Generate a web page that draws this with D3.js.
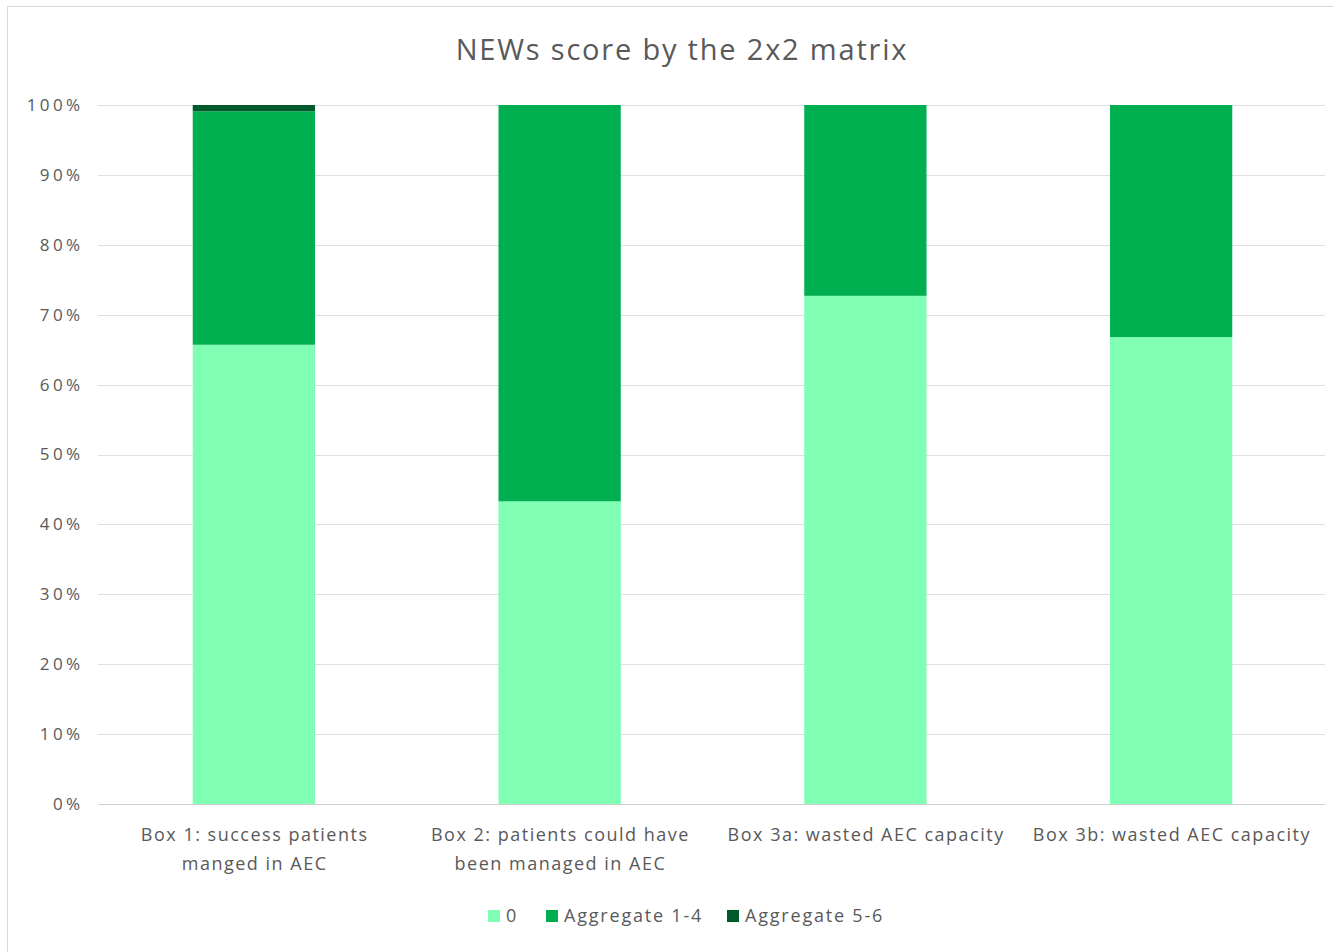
<!DOCTYPE html>
<html><head><meta charset="utf-8">
<script src="https://cdn.jsdelivr.net/npm/d3@7"></script>
<style>body{margin:0;background:#fff}svg{display:block}</style>
</head><body>
<script>
const categories = [
  ["Box 1: success patients", "manged in AEC"],
  ["Box 2: patients could have", "been managed in AEC"],
  ["Box 3a: wasted AEC capacity"],
  ["Box 3b: wasted AEC capacity"]
];
const seriesNames = ["0", "Aggregate 1-4", "Aggregate 5-6"];
const s0 = [0.657, 0.433, 0.727, 0.668];
const s14 = [0.334, 0.567, 0.273, 0.332];
const s56 = [0.009, 0, 0, 0];
const yTicks = [0,0.1,0.2,0.3,0.4,0.5,0.6,0.7,0.8,0.9,1.0];
const colors = ["#80FFB4", "#00B050", "#005A2A"];
const title = "NEWs score by the 2x2 matrix";

const W = 1333, H = 952;
const font = "'Open Sans', sans-serif";
const svg = d3.select("body").append("svg").attr("width", W).attr("height", H);
svg.append("rect").attr("x",7.5).attr("y",6.5).attr("width",W+10).attr("height",H+10)
  .attr("fill","#fff").attr("stroke","#d9d9d9");

const x = d3.scaleBand().domain(d3.range(categories.length)).range([101,1324]).paddingInner(0.6).paddingOuter(0.3);
const y = d3.scaleLinear().domain([0,1]).range([804,105]);

// grid
svg.append("g").selectAll("line").data(yTicks).join("line")
  .attr("x1",98).attr("x2",1325).attr("y1",d=>Math.round(y(d))+0.5).attr("y2",d=>Math.round(y(d))+0.5)
  .attr("stroke",d=>d===0?"#d0d0d0":"#e0e0e0").attr("stroke-width",1);

// y labels
const fmt = d3.format(".0%");
svg.append("g").selectAll("text").data(yTicks).join("text")
  .attr("x",83.5).attr("y",d=>y(d)).attr("dy","0.35em").attr("text-anchor","end")
  .attr("font-family",font).attr("font-size",17).attr("letter-spacing",3.4).attr("fill","#595959").text(d=>fmt(d));

// stacked bars
const series = [s0, s14, s56];
const stackData = categories.map((c,i)=>({i, v: series.map(s=>s[i])}));
const stack = d3.stack().keys([0,1,2]).value((d,k)=>d.v[k]);
const layers = stack(stackData);
svg.append("g").selectAll("g").data(layers).join("g").attr("fill",(d,k)=>colors[k])
  .selectAll("rect").data(d=>d).join("rect")
  .attr("x",d=>x(d.data.i)).attr("width",x.bandwidth())
  .attr("y",d=>y(d[1])).attr("height",d=>Math.max(0,y(d[0])-y(d[1])));

// x labels
const xl = svg.append("g");
categories.forEach((lines,i)=>{
  lines.forEach((t,j)=>{
    xl.append("text").attr("x",x(i)+x.bandwidth()/2+0.8).attr("y",835+j*29).attr("dy","0.35em")
      .attr("text-anchor","middle").attr("font-family",font).attr("font-size",18).attr("letter-spacing",1.5)
      .attr("fill","#595959").text(t);
  });
});

// title
svg.append("text").attr("x",682).attr("y",50).attr("dy","0.35em").attr("text-anchor","middle")
  .attr("font-family",font).attr("font-size",29).attr("letter-spacing",1.8).attr("fill","#595959").text(title);

// legend
const legX = [488, 546, 727];
const lg = svg.append("g");
seriesNames.forEach((n,k)=>{
  lg.append("rect").attr("x",legX[k]).attr("y",910).attr("width",12).attr("height",12).attr("fill",colors[k]);
  lg.append("text").attr("x",legX[k]+18).attr("y",916).attr("dy","0.35em")
    .attr("font-family",font).attr("font-size",18).attr("letter-spacing",1.8).attr("fill","#595959").text(n);
});
</script>
</body></html>
